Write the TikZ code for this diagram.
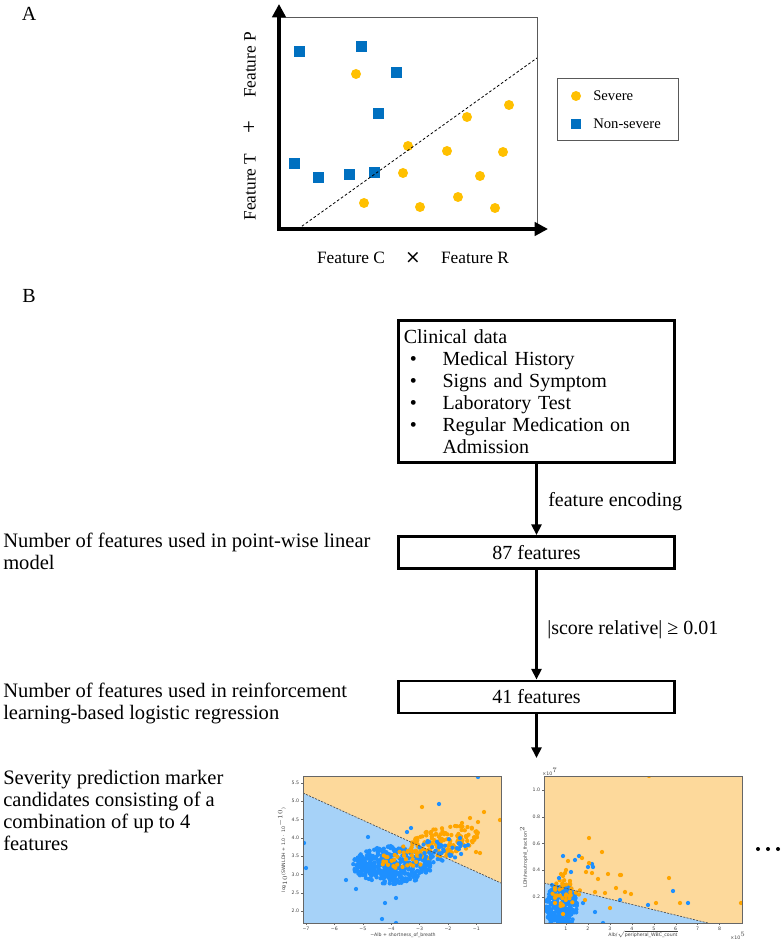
\documentclass[tikz,border=0pt]{standalone}
\usepackage{fontspec}
\setmainfont{Liberation Serif}
\newfontfamily\tickfont{DejaVu Sans}
\usetikzlibrary{arrows.meta}
\definecolor{sevC}{RGB}{255,192,0}
\definecolor{nsC}{RGB}{0,112,192}
\definecolor{bgO}{RGB}{253,217,155}
\definecolor{bgB}{RGB}{166,210,248}
\definecolor{ptO}{RGB}{255,165,0}
\definecolor{ptB}{RGB}{30,144,255}
\tikzset{
  main/.style={font=\fontsize{15}{16.5}\selectfont, inner sep=0pt},
  sidetext/.style={font=\fontsize{15.4}{16.5}\selectfont, inner sep=0pt, anchor=base west, align=left},
  sq/.style={fill=nsC, minimum size=8.25pt, inner sep=0pt, draw=none},
  dot/.style={circle, fill=sevC, minimum size=7.5pt, inner sep=0pt, draw=none},
  flowbox/.style={draw, line width=2.2pt, minimum width=207pt, minimum height=24pt, font=\fontsize{15}{16.5}\selectfont},
  flowarrow/.style={line width=2.25pt, -{Triangle[length=8pt,width=7.5pt]}},
  tick/.style={font=\fontsize{3.5}{4}\tickfont, text=black!75, inner sep=0.5pt},
  ellip/.style={circle, fill=black, minimum size=3pt, inner sep=0pt},
  bpt/.style={ptB},
  opt/.style={ptO}
}
% cloud of points: #1 style, #2 count, #3 cx, #4 cy, #5 rx, #6 ry, #7 tilt
\newcommand\ptcloud[7]{%
  \foreach \i in {1,...,#2}{%
    \pgfmathsetmacro\rr{sqrt(rnd)}%
    \pgfmathsetmacro\aa{360*rnd}%
    \pgfmathsetmacro\px{#3+#5*\rr*cos(\aa)}%
    \pgfmathsetmacro\py{#4+#6*\rr*sin(\aa)+#7*(\px-#3)}%
    \fill[#1] (\px,\py) circle[radius=1.6pt];
  }%
}
\begin{document}
\begin{tikzpicture}[x=0.75pt,y=-0.75pt]
\useasboundingbox (0,0) rectangle (782,944);

% ---------------- Panel A ----------------
\node[main] (labA) at (29,14) {A};
\draw[black!65, line width=0.6pt] (279,17) -- (537,17) -- (537,229);
\draw[line width=3.6pt, -{Triangle[length=10pt,width=10pt]}] (279,231) -- (279,4);
\draw[line width=3.6pt, -{Triangle[length=10pt,width=10pt]}] (277.2,229) -- (548,229);
\node[sq] (s1) at (299,52) {};
\node[sq] (s2) at (361,47) {};
\node[sq] (s3) at (396,73) {};
\node[sq] (s4) at (378,114) {};
\node[sq] (s5) at (294,164) {};
\node[sq] (s6) at (318,178) {};
\node[sq] (s7) at (349,175) {};
\node[sq] (s8) at (374,173) {};
\node[dot] (c1) at (356,74) {};
\node[dot] (c2) at (509,105) {};
\node[dot] (c3) at (467,117) {};
\node[dot] (c4) at (408,146) {};
\node[dot] (c5) at (447,151) {};
\node[dot] (c6) at (503,152) {};
\node[dot] (c7) at (403,173) {};
\node[dot] (c8) at (480,176) {};
\node[dot] (c9) at (364,203) {};
\node[dot] (c10) at (420,207) {};
\node[dot] (c11) at (458,197) {};
\node[dot] (c12) at (495,208) {};
\coordinate (dl1) at (298,229);
\coordinate (dl2) at (537,58);
\draw[line width=0.6pt, dash pattern=on 2pt off 1.6pt] (dl1) -- (dl2);
% axis labels
\node[font=\fontsize{13}{14}\selectfont, rotate=90, inner sep=0pt] (fT) at (250,187) {Feature T};
\node[font=\fontsize{17}{18}\selectfont, rotate=90, inner sep=0pt] (fplus) at (250,127) {+};
\node[font=\fontsize{13}{14}\selectfont, rotate=90, inner sep=0pt] (fP) at (250,65) {Feature P};
\node[font=\fontsize{13}{14}\selectfont, anchor=base, inner sep=0pt] (fC) at (351,264) {Feature C};
\node[font=\fontsize{14}{15}\tickfont, inner sep=0pt] (ftimes) at (413,258) {×};
\node[font=\fontsize{13}{14}\selectfont, anchor=base, inner sep=0pt] (fR) at (475,264) {Feature R};
% legend
\node[draw=black!65, line width=0.6pt, minimum width=90.5pt, minimum height=46.5pt, inner sep=0pt] (leg) at (618,109.5) {};
\node[dot, minimum size=7.5pt] (lc) at (576,96) {};
\node[sq, minimum size=7.5pt] (ls) at (576,124) {};
\node[font=\fontsize{11}{12}\selectfont, anchor=base west, inner sep=0pt] (lt1) at (593,100.5) {Severe};
\node[font=\fontsize{11}{12}\selectfont, anchor=base west, inner sep=0pt] (lt2) at (593,128.5) {Non-severe};

% ---------------- Panel B ----------------
\node[main] (labB) at (29,296) {B};
\node[draw, line width=2.2pt, minimum width=207pt, minimum height=106.5pt, text width=199pt, inner xsep=4pt, inner ysep=0pt, align=left, font=\fontsize{15}{16.5}\selectfont] (clin) at (536.5,391.5)
{Clinical data\\
\hspace*{4.5pt}\makebox[24.5pt][l]{\textbullet}Medical History\\
\hspace*{4.5pt}\makebox[24.5pt][l]{\textbullet}Signs and Symptom\\
\hspace*{4.5pt}\makebox[24.5pt][l]{\textbullet}Laboratory Test\\
\hspace*{4.5pt}\makebox[24.5pt][l]{\textbullet}Regular Medication on\\
\hspace*{29pt}Admission};
\node[flowbox] (n87) at (536.5,552.5) {87 features};
\node[flowbox] (n41) at (536.5,697) {41 features};
\coordinate (endarr) at (536.5,758);
\draw[flowarrow] (clin.south) -- (n87.north);
\draw[flowarrow] (n87.south) -- (n41.north);
\draw[flowarrow] (n41.south) -- (endarr);
\node[main, anchor=base west] (enc) at (548,506) {feature encoding};
\node[main, anchor=base west] (score) at (547,634) {|score relative| ≥ 0.01};

% base anchor of a multi-line node = baseline of its last line
\node[sidetext] (t1) at (3,569) {Number of features used in point-wise linear\\model};
\node[sidetext] (t2) at (3,719) {Number of features used in reinforcement\\learning-based logistic regression};
\node[sidetext] (t3) at (3,850) {Severity prediction marker\\candidates consisting of a\\combination of up to 4\\features};

% ---------------- Scatter plot 1 ----------------
\pgfmathsetseed{11}
\begin{scope}
\clip (303,776) rectangle (501,923);
\fill[bgO] (303,776) rectangle (501,923);
\fill[bgB] (303,793) -- (501,883) -- (501,923) -- (303,923) -- cycle;
\ptcloud{bpt}{380}{392}{865}{40}{19}{0}
\ptcloud{bpt}{60}{378}{866}{22}{10}{0}
\ptcloud{opt}{30}{400}{858}{28}{12}{0}
\ptcloud{opt}{150}{443}{842}{36}{15}{-0.2}
\ptcloud{bpt}{45}{440}{850}{26}{12}{-0.1}
\foreach \p in {(304,843),(306,868),(439,804),(478,777),(368,837),(385,903),(396,898),(382,919),(396,923),(411,828),(407,832),(460,838),(468,845),(356,889),(346,880)}
  \fill[bpt] \p circle[radius=1.6pt];
\foreach \p in {(422,807),(484,812),(500,820),(478,822),(480,853),(476,852),(455,826),(462,823),(470,818),(466,836)}
  \fill[opt] \p circle[radius=1.6pt];
\coordinate (db1) at (303,793);
\coordinate (db2) at (501,883);
\draw[black!70, line width=0.5pt, dash pattern=on 1.5pt off 1pt] (db1) -- (db2);
\end{scope}
\draw[black!60, line width=0.4pt] (303,776) rectangle (501,923);
\foreach \v [count=\k from 0] in {5.5,5.0,4.5,4.0,3.5,3.0,2.5,2.0}{
  \draw[black!60, line width=0.3pt] (303,783+\k*18.29) -- (301,783+\k*18.29);
  \node[tick, anchor=east] (p1y\k) at (300,783+\k*18.29) {\v};
}
\foreach \v [count=\k from 0] in {−7,−6,−5,−4,−3,−2,−1}{
  \draw[black!60, line width=0.3pt] (306+\k*28.4,923) -- (306+\k*28.4,925);
  \node[tick, anchor=north] (p1x\k) at (306+\k*28.4,926) {\v};
}
\node[tick, anchor=north] (p1xl) at (403,932) {−Alb + shortness\_of\_breath};
\node[tick, rotate=90, anchor=south] (p1yl) at (288,850) {log$_{10}$(SWNLDH + 1.0 $\cdot$ 10$^{-10}$)};

% ---------------- Scatter plot 2 ----------------
\begin{scope}
\clip (544,776) rectangle (742,923);
\fill[bgO] (544,776) rectangle (742,923);
\fill[bgB] (544,883) -- (708,923) -- (544,923) -- cycle;
\ptcloud{bpt}{260}{561}{906}{16}{22}{0}
\ptcloud{opt}{35}{566}{892}{14}{16}{0}
\foreach \p in {(563,856),(575,860),(579,856),(592,864),(588,867),(571,872),(559,878),(673,891),(688,903),(648,905),(620,900),(603,923),(595,912),(593,867),(583,903),(552,885),(548,900)}
  \fill[bpt] \p circle[radius=1.6pt];
\foreach \p in {(589,838),(602,852),(568,861),(582,858),(589,863),(586,872),(592,873),(566,870),(565,873),(561,874),(563,876),(598,879),(608,874),(620,875),(669,878),(649,776),(621,875),(610,908),(656,903),(680,903),(741,903),(616,888),(631,894),(625,892),(605,893),(585,900),(595,892),(555,903),(563,914)}
  \fill[opt] \p circle[radius=1.6pt];
\coordinate (dc1) at (544,883);
\coordinate (dc2) at (708,923);
\draw[black!70, line width=0.5pt, dash pattern=on 1.5pt off 1pt] (dc1) -- (dc2);
\end{scope}
\draw[black!60, line width=0.4pt] (544,776) rectangle (742,923);
\foreach \v [count=\k from 0] in {1.0,0.8,0.6,0.4,0.2}{
  \draw[black!60, line width=0.3pt] (544,790+\k*26.75) -- (542,790+\k*26.75);
  \node[tick, anchor=east] (p2y\k) at (541,790+\k*26.75) {\v};
}
\foreach \v in {1,...,8}{
  \draw[black!60, line width=0.3pt] (544+\v*21.95,923) -- (544+\v*21.95,925);
  \node[tick, anchor=north] (p2x\v) at (544+\v*21.95,926) {\v};
}
\node[tick] (p2e1) at (550,772) {×10$^{7}$};
\node[tick] (p2e2) at (738,936) {×10$^{5}$};
\node[tick, anchor=north] (p2xl) at (643,930) {Alb/$\sqrt{\mbox{peripheral\_WBC\_count}}$};
\node[tick, rotate=90, anchor=south] (p2yl) at (529,857) {LDH/neutrophil\_fraction$^{2}$};

% ellipsis
\node[ellip] (e1) at (758,849) {};
\node[ellip] (e2) at (768,849) {};
\node[ellip] (e3) at (778,849) {};
\end{tikzpicture}
\end{document}
